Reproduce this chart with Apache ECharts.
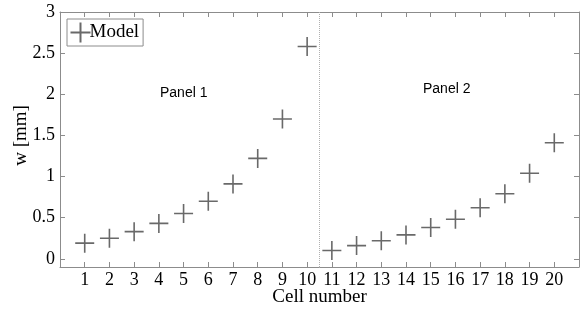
<!DOCTYPE html>
<html>
<head>
<meta charset="utf-8">
<script src="https://cdn.jsdelivr.net/npm/echarts@6/dist/echarts.min.js"></script>
<style>
  html, body { margin: 0; padding: 0; background: #fff; }
  #chart { width: 586px; height: 310px; }
</style>
</head>
<body>
<div id="chart"></div>
<script>
// cell numbers and model deflection w [mm]
const cells = [1, 2, 3, 4, 5, 6, 7, 8, 9, 10, 11, 12, 13, 14, 15, 16, 17, 18, 19, 20];
const wModel = [0.19, 0.25, 0.33, 0.43, 0.55, 0.70, 0.91, 1.22, 1.70, 2.58,
  0.10, 0.16, 0.22, 0.29, 0.38, 0.48, 0.62, 0.79, 1.04, 1.41];
const panelSplit = 10.5;
const panelLabels = ['Panel 1', 'Panel 2'];

const serif = '"Liberation Serif", "Times New Roman", serif';
const frameColor = '#8c8c8c';
const markColor = '#444';
const plus = 'path://M0,-10L0,10M-10,0L10,0';

const chart = echarts.init(document.getElementById('chart'));

const hiddenAxis = {
  axisLine: { show: true, onZero: false, lineStyle: { color: frameColor } },
  axisTick: { show: true, inside: true, length: 5, lineStyle: { color: frameColor } },
  axisLabel: { show: false },
  splitLine: { show: false },
};

chart.setOption({
  animation: false,
  grid: { left: 60, right: 7, top: 12, bottom: 43, outerBoundsMode: 'none' },
  legend: {
    left: 67,
    top: 19,
    data: ['Model'],
    icon: plus,
    itemWidth: 20,
    itemHeight: 20,
    itemGap: 0,
    padding: [1, 4, 1, 1],
    borderColor: frameColor,
    borderWidth: 1,
    textStyle: { fontFamily: serif, fontSize: 19, color: '#000', padding: [0, 0, 0, -6] },
  },
  xAxis: [{
    type: 'value',
    min: 0,
    max: 21,
    interval: 1,
    name: 'Cell number',
    nameLocation: 'middle',
    nameGap: 21,
    nameMoveOverlap: false,
    nameTextStyle: { fontFamily: serif, fontSize: 19, color: '#000' },
    axisLine: { show: true, onZero: false, lineStyle: { color: frameColor } },
    axisTick: { inside: true, length: 5, lineStyle: { color: frameColor } },
    axisLabel: {
      fontFamily: serif, fontSize: 18, color: '#000', margin: 4,
      formatter: v => (v >= 1 && v <= 20 ? String(v) : ''),
    },
    splitLine: { show: false },
  }, Object.assign({ type: 'value', position: 'top', min: 0, max: 21, interval: 1 }, hiddenAxis)],
  yAxis: [{
    type: 'value',
    min: -0.1,
    max: 3,
    splitNumber: 6,
    name: 'w [mm]',
    nameLocation: 'middle',
    nameGap: 29,
    nameMoveOverlap: false,
    nameTextStyle: { fontFamily: serif, fontSize: 19, color: '#000', padding: [0, 0, 0, 8] },
    axisLine: { show: true, onZero: false, lineStyle: { color: frameColor } },
    axisTick: { inside: true, length: 5, lineStyle: { color: frameColor } },
    axisLabel: {
      fontFamily: serif, fontSize: 18, color: '#000', margin: 5,
      formatter: v => (v < 0 ? '' : String(v)),
    },
    splitLine: { show: false },
  }, Object.assign({ type: 'value', position: 'right', min: -0.1, max: 3, splitNumber: 6 }, hiddenAxis)],
  series: [{
    name: 'Model',
    type: 'scatter',
    data: cells.map((c, i) => [c, wModel[i]]),
    symbol: plus,
    symbolSize: 19,
    itemStyle: { color: 'none', borderColor: markColor, borderWidth: 1.6 },
    markLine: {
      silent: true,
      symbol: 'none',
      label: { show: false },
      lineStyle: { type: [1, 1], color: '#b0b0b0', width: 1 },
      data: [{ xAxis: panelSplit }],
    },
  }],
  graphic: [
    { type: 'text', left: 160, top: 86, style: { text: panelLabels[0], font: '14px "Liberation Sans", Arial, sans-serif', fill: '#000' } },
    { type: 'text', left: 423, top: 82, style: { text: panelLabels[1], font: '14px "Liberation Sans", Arial, sans-serif', fill: '#000' } },
  ],
});
</script>
</body>
</html>
